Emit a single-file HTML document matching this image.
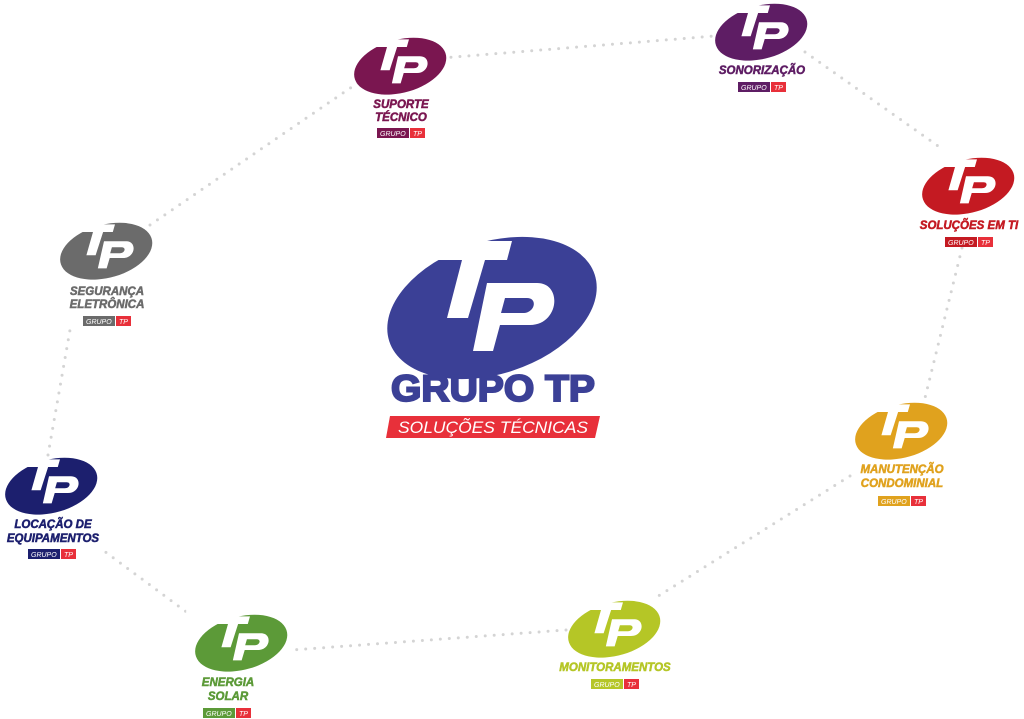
<!DOCTYPE html>
<html><head><meta charset="utf-8"><style>
html,body{margin:0;padding:0;background:#fff;width:1024px;height:719px;overflow:hidden}
svg{display:block}
.lb{font-family:"Liberation Sans",sans-serif;font-weight:bold;font-style:italic;font-size:11.5px;text-anchor:middle;stroke-width:0.5}
.bd{font-family:"Liberation Sans",sans-serif;font-style:italic;font-size:7px;fill:#fff}
</style></head><body>
<svg width="1024" height="719" viewBox="0 0 1024 719" xmlns="http://www.w3.org/2000/svg">
<defs>
<g id="logo">
  <ellipse cx="105" cy="78" rx="108" ry="66" transform="rotate(-18 105 78)"/>
  <path fill="#fff" d="M-20,-20 L86,-20 L86,11 L125,11 L120,30 L98,30 L81,88 L60,88 L75,30 L-20,30 Z"/>
  <path fill="#fff" fill-rule="evenodd" d="M100,53 L150,53 C176,53 172,95 143,95 L113,95 L106,121 L86,121 Z M118,68 L140,68 C151,68 148,83 136,83 L114,83 Z"/>
</g>
</defs>
<g stroke="#d4d4d4" stroke-width="3" stroke-linecap="round" stroke-dasharray="0 9" fill="none">
  <path d="M442,58 L715,36"/>
  <path d="M805,52 L955,158"/>
  <path d="M962,248 L925,398"/>
  <path d="M850,476 L652,600"/>
  <path d="M566,630 L292,650"/>
  <path d="M200,622 L100,548"/>
  <path d="M48,455 L70,330"/>
  <path d="M150,225 L362,80"/>
</g>
<g fill="#3b4096" transform="translate(387,230)"><use href="#logo"/></g>
<text x="391" y="401" textLength="204" lengthAdjust="spacingAndGlyphs" font-family="Liberation Sans,sans-serif" font-weight="bold" font-size="37" fill="#3b4096" stroke="#3b4096" stroke-width="2">GRUPO TP</text>
<polygon points="390,416 600,416 595,438 386,438" fill="#e8303a"/>
<text x="493" y="433" text-anchor="middle" textLength="190" lengthAdjust="spacingAndGlyphs" font-family="Liberation Sans,sans-serif" font-style="italic" font-size="17" fill="#fff">SOLUÇÕES TÉCNICAS</text>

<g fill="#7a1650" transform="translate(354,35) scale(0.44,0.40)"><use href="#logo"/></g>
<text class="lb" x="401" y="108" fill="#7a1650" stroke="#7a1650">SUPORTE</text>
<text class="lb" x="401" y="121" fill="#7a1650" stroke="#7a1650">TÉCNICO</text>
<g transform="translate(377,128)"><rect width="32" height="10" fill="#7a1650"/><rect x="33" width="15" height="10" fill="#e8303a"/><text class="bd" x="3" y="8">GRUPO</text><text class="bd" x="36" y="8">TP</text></g>

<g fill="#5e1d64" transform="translate(715,1) scale(0.44,0.40)"><use href="#logo"/></g>
<text class="lb" x="762" y="74" fill="#5e1d64" stroke="#5e1d64">SONORIZAÇÃO</text>
<g transform="translate(738,82)"><rect width="32" height="10" fill="#5e1d64"/><rect x="33" width="15" height="10" fill="#e8303a"/><text class="bd" x="3" y="8">GRUPO</text><text class="bd" x="36" y="8">TP</text></g>

<g fill="#c41a22" transform="translate(922,155) scale(0.44,0.40)"><use href="#logo"/></g>
<text class="lb" x="969" y="229" fill="#c41a22" stroke="#c41a22">SOLUÇÕES EM TI</text>
<g transform="translate(945,237)"><rect width="32" height="10" fill="#c41a22"/><rect x="33" width="15" height="10" fill="#e8303a"/><text class="bd" x="3" y="8">GRUPO</text><text class="bd" x="36" y="8">TP</text></g>

<g fill="#6b6b6b" transform="translate(60,220) scale(0.44,0.40)"><use href="#logo"/></g>
<text class="lb" x="107" y="295" fill="#6b6b6b" stroke="#6b6b6b">SEGURANÇA</text>
<text class="lb" x="107" y="308" fill="#6b6b6b" stroke="#6b6b6b">ELETRÔNICA</text>
<g transform="translate(83,316)"><rect width="32" height="10" fill="#6b6b6b"/><rect x="33" width="15" height="10" fill="#e8303a"/><text class="bd" x="3" y="8">GRUPO</text><text class="bd" x="36" y="8">TP</text></g>

<g fill="#1c1f6e" transform="translate(5,455) scale(0.44,0.40)"><use href="#logo"/></g>
<text class="lb" x="53" y="528" fill="#1c1f6e" stroke="#1c1f6e">LOCAÇÃO DE</text>
<text class="lb" x="53" y="542" fill="#1c1f6e" stroke="#1c1f6e">EQUIPAMENTOS</text>
<g transform="translate(28,549)"><rect width="32" height="10" fill="#1c1f6e"/><rect x="33" width="15" height="10" fill="#e8303a"/><text class="bd" x="3" y="8">GRUPO</text><text class="bd" x="36" y="8">TP</text></g>

<g fill="#5c9a38" transform="translate(195,612) scale(0.44,0.40)"><use href="#logo"/></g>
<text class="lb" x="228" y="686" fill="#5c9a38" stroke="#5c9a38">ENERGIA</text>
<text class="lb" x="228" y="700" fill="#5c9a38" stroke="#5c9a38">SOLAR</text>
<g transform="translate(203,708)"><rect width="32" height="10" fill="#5c9a38"/><rect x="33" width="15" height="10" fill="#e8303a"/><text class="bd" x="3" y="8">GRUPO</text><text class="bd" x="36" y="8">TP</text></g>

<g fill="#b5c626" transform="translate(568,598) scale(0.44,0.40)"><use href="#logo"/></g>
<text class="lb" x="615" y="671" fill="#b5c626" stroke="#b5c626">MONITORAMENTOS</text>
<g transform="translate(591,679)"><rect width="32" height="10" fill="#b5c626"/><rect x="33" width="15" height="10" fill="#e8303a"/><text class="bd" x="3" y="8">GRUPO</text><text class="bd" x="36" y="8">TP</text></g>

<g fill="#e0a21e" transform="translate(855,400) scale(0.44,0.40)"><use href="#logo"/></g>
<text class="lb" x="902" y="473" fill="#e0a21e" stroke="#e0a21e">MANUTENÇÃO</text>
<text class="lb" x="902" y="487" fill="#e0a21e" stroke="#e0a21e">CONDOMINIAL</text>
<g transform="translate(878,496)"><rect width="32" height="10" fill="#e0a21e"/><rect x="33" width="15" height="10" fill="#e8303a"/><text class="bd" x="3" y="8">GRUPO</text><text class="bd" x="36" y="8">TP</text></g>
</svg>
</body></html>
